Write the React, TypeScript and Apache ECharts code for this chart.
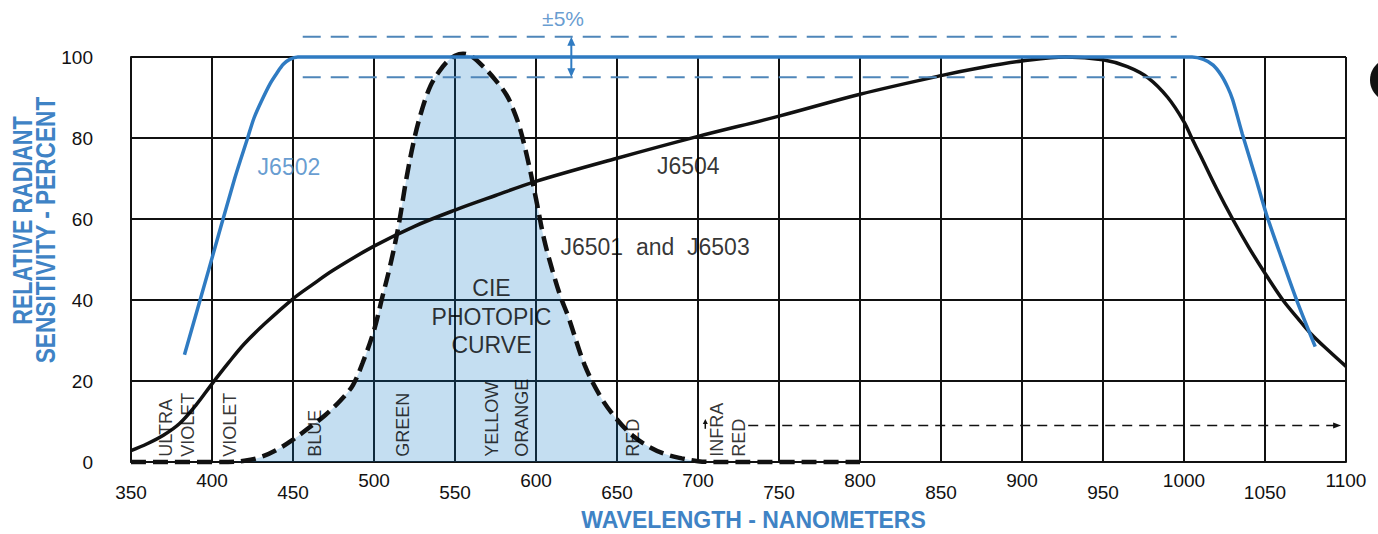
import React, { useEffect, useRef } from 'react';
import * as echarts from 'echarts';

// ---------- data ----------
const xMin = 350;
const xMax = 1100;
const xStep = 50;
const yTicks = [0, 20, 40, 60, 80, 100];

// J6502 (blue)
const j6502: [number, number][] = [
  [383, 26.5], [398, 47.5], [414, 70], [422, 80], [426, 85],
  [431, 89.5], [436, 93.5], [440, 96], [444, 98.2], [448, 99.4], [453, 100],
  [1005, 100], [1012, 99.4], [1018, 98], [1023, 95.5], [1027, 92.5], [1030, 89.5],
  [1036, 81], [1044, 70.5], [1051, 61], [1061, 49.5], [1070, 39.5], [1081, 28.5],
];

// J6504 (black solid)
const j6504: [number, number][] = [
  [350, 2.8], [360, 4.5], [370, 6.6], [380, 9.5], [390, 14], [400, 19.3], [410, 24.4],
  [420, 29.2], [433, 34.3], [450, 40.3], [462, 43.8], [475, 47.4], [500, 53.3],
  [525, 58.2], [550, 62.2], [575, 65.8], [600, 69.3], [650, 75], [700, 80.4],
  [750, 85.4], [800, 90.8], [850, 95.4], [875, 97.4], [900, 99], [927, 100],
  [950, 99.3], [965, 97.6], [978, 94.8], [990, 90], [1000, 84], [1005, 79.8],
  [1010, 75.8], [1020, 67.6], [1030, 60], [1040, 53], [1050, 46.6], [1061, 40],
  [1070, 35.6], [1078, 31.8], [1090, 27.2], [1100, 23.6],
];

// CIE photopic curve (J6501 and J6503), black dashed with fill
const ciePhotopic: [number, number][] = [
  [350, 0], [410, 0], [420, 0.3], [430, 1.2], [440, 3], [450, 5.5], [460, 8.5],
  [470, 11.6], [480, 15.5], [487, 19], [493, 24.5], [500, 32.5], [505, 40.5],
  [510, 48.5], [515, 58], [520, 70], [525, 80], [530, 87.5], [535, 93], [540, 96.3],
  [545, 98.8], [550, 100.3], [555, 100.8], [560, 100.2], [567, 97.8], [575, 94.3],
  [582, 90.5], [586, 87], [590, 82.5], [595, 74.5], [600, 65], [605, 55], [610, 47.5],
  [615, 41], [620, 35.8], [630, 24], [640, 16], [650, 10.5], [660, 6.4], [670, 3.7],
  [680, 1.9], [690, 0.9], [700, 0.2], [710, 0], [800, 0],
];

// ±5% tolerance band
const toleranceUpper: [number, number][] = [[456, 105], [995.5, 105]];
const toleranceLower: [number, number][] = [[456, 95], [995.5, 95]];

// arrows: [x1, y1, x2, y2, kind]  kind 0 = blue double, 1 = black dashed, 2 = small black up
const arrows: number[][] = [
  [621.8, 105, 621.8, 95, 0],
  [731, 9, 1097, 9, 1],
  [704.5, 8.2, 704.5, 10.6, 2],
];

// colour band labels (rotated)
const bandNames = ['ULTRA\nVIOLET', 'VIOLET', 'BLUE', 'GREEN', 'YELLOW', 'ORANGE', 'RED', 'INFRA\nRED'];
const bandX = [378.1, 411.1, 463.6, 517.6, 572.7, 591.2, 659.6, 718.8];
const bandY = 1.3;

// curve labels
const curveLabelNames = ['J6502', 'J6504', 'J6501  and  J6503', 'CIE\nPHOTOPIC\nCURVE', '±5%'];
const curveLabelPos: [number, number][] = [[447.5, 72.8], [694, 73], [673.5, 53.2], [572.5, 35.9], [616.7, 109.5]];

const BLUE = '#2f7bc2';
const TEXT_BLUE = '#3f83c5';
const DASH_BLUE = '#4f86b9';
const INK = '#111111';
const FONT = '"Liberation Sans", Arial, Helvetica, sans-serif';

export default function App() {
  const ref = useRef<HTMLDivElement>(null);

  useEffect(() => {
    if (!ref.current) return;
    const chart = echarts.init(ref.current, null, { renderer: 'svg' });

    const head = (tip: number[], from: number[], len: number, hw: number) => {
      const dx = tip[0] - from[0];
      const dy = tip[1] - from[1];
      const d = Math.sqrt(dx * dx + dy * dy) || 1;
      const ux = dx / d, uy = dy / d;
      const nx = -uy, ny = ux;
      const bx = tip[0] - ux * len, by = tip[1] - uy * len;
      return [[tip[0], tip[1]], [bx + nx * hw, by + ny * hw], [bx - nx * hw, by - ny * hw]];
    };

    const option: any = {
      animation: false,
      backgroundColor: '#ffffff',
      grid: { left: 131, top: 57, width: 1215, height: 405, containLabel: false },
      xAxis: [
        {
          type: 'value', min: xMin, max: xMax, interval: xStep,
          axisLine: { show: true, lineStyle: { color: INK, width: 2 } },
          axisTick: { show: false },
          splitLine: { show: true, lineStyle: { color: INK, width: 2 } },
          axisLabel: {
            margin: 21, fontSize: 19, color: INK, fontFamily: FONT,
            formatter: (v: number) => ((v - xMin) % 100 === 0 ? String(v) : ''),
          },
        },
        {
          type: 'value', min: xMin, max: xMax, interval: xStep, position: 'bottom',
          axisLine: { show: false }, axisTick: { show: false }, splitLine: { show: false },
          axisLabel: {
            margin: 9, fontSize: 19, color: INK, fontFamily: FONT,
            formatter: (v: number) => ((v - xMin) % 100 === 50 ? String(v) : ''),
          },
        },
      ],
      yAxis: {
        type: 'value', min: yTicks[0], max: yTicks[yTicks.length - 1], interval: 20,
        axisLine: { show: true, lineStyle: { color: INK, width: 2 } },
        axisTick: { show: false },
        splitLine: { show: true, lineStyle: { color: INK, width: 2 } },
        axisLabel: { margin: 38, fontSize: 19, color: INK, fontFamily: FONT },
      },
      graphic: [
        {
          type: 'text', x: 22.5, y: 220.5, rotation: Math.PI / 2, scaleX: 0.8,
          style: {
            text: 'RELATIVE RADIANT', font: `bold 27px ${FONT}`, fill: TEXT_BLUE,
            align: 'center', verticalAlign: 'middle', textAlign: 'center', textVerticalAlign: 'middle',
          },
        },
        {
          type: 'text', x: 45.5, y: 230, rotation: Math.PI / 2, scaleX: 0.84,
          style: {
            text: 'SENSITIVITY - PERCENT', font: `bold 27px ${FONT}`, fill: TEXT_BLUE,
            align: 'center', verticalAlign: 'middle', textAlign: 'center', textVerticalAlign: 'middle',
          },
        },
        {
          type: 'text', x: 753.5, y: 520,
          style: {
            text: 'WAVELENGTH - NANOMETERS', font: `bold 23px ${FONT}`, fill: TEXT_BLUE,
            align: 'center', verticalAlign: 'middle', textAlign: 'center', textVerticalAlign: 'middle',
          },
        },
        {
          type: 'circle', shape: { cx: 1392, cy: 80, r: 22 }, style: { fill: INK },
        },
      ],
      series: [
        {
          name: 'CIE photopic', type: 'line', data: ciePhotopic, smooth: 0.35, clip: false,
          symbol: 'none', z: 2,
          lineStyle: { color: INK, width: 4.5, type: [15, 7] },
          areaStyle: { color: 'rgba(12,118,198,0.35)', origin: 'start' },
        },
        {
          name: 'J6504', type: 'line', data: j6504, smooth: 0.35, clip: false, symbol: 'none', z: 3,
          lineStyle: { color: INK, width: 3.5 },
        },
        {
          name: 'J6502', type: 'line', data: j6502, smooth: 0.3, clip: false, symbol: 'none', z: 4,
          lineStyle: { color: BLUE, width: 3.5 },
        },
        {
          name: '+5%', type: 'line', data: toleranceUpper, clip: false, symbol: 'none', z: 4,
          lineStyle: { color: DASH_BLUE, width: 2, type: [18, 10] },
        },
        {
          name: '-5%', type: 'line', data: toleranceLower, clip: false, symbol: 'none', z: 4,
          lineStyle: { color: DASH_BLUE, width: 2, type: [18, 10] },
        },
        {
          name: 'arrows', type: 'custom', clip: false, z: 5,
          data: arrows,
          encode: { x: [0, 2], y: [1, 3] },
          renderItem: (_params: any, api: any) => {
            const a = api.coord([api.value(0), api.value(1)]);
            const b = api.coord([api.value(2), api.value(3)]);
            const kind = api.value(4);
            const children: any[] = [];
            if (kind === 0) {
              children.push({ type: 'line', shape: { x1: a[0], y1: a[1] + 4, x2: b[0], y2: b[1] - 4 }, style: { stroke: BLUE, lineWidth: 2 } });
              children.push({ type: 'polygon', shape: { points: head(a, b, 9, 4) }, style: { fill: BLUE } });
              children.push({ type: 'polygon', shape: { points: head(b, a, 9, 4) }, style: { fill: BLUE } });
            } else if (kind === 1) {
              children.push({ type: 'line', shape: { x1: a[0], y1: a[1], x2: b[0] - 4, y2: b[1] }, style: { stroke: INK, lineWidth: 1.5, lineDash: [10, 7] } });
              children.push({ type: 'polygon', shape: { points: head(b, a, 8, 3) }, style: { fill: INK } });
            } else {
              children.push({ type: 'line', shape: { x1: a[0], y1: a[1], x2: b[0], y2: b[1] + 3 }, style: { stroke: INK, lineWidth: 1.5 } });
              children.push({ type: 'polygon', shape: { points: head(b, a, 5, 2.5) }, style: { fill: INK } });
            }
            return { type: 'group', children };
          },
        },
        {
          name: 'bands', type: 'scatter', clip: false, z: 6, symbolSize: 1,
          itemStyle: { color: 'rgba(0,0,0,0)' },
          data: bandNames.map((n, i) => ({ name: n, value: [bandX[i], bandY] })),
          label: {
            show: true, position: 'inside', rotate: 90, align: 'left', verticalAlign: 'middle',
            formatter: (p: any) => p.name, fontSize: 18, lineHeight: 22, color: '#000', fontFamily: FONT,
          },
          emphasis: { disabled: true },
          silent: true,
        },
        {
          name: 'curveLabels', type: 'scatter', clip: false, z: 6, symbolSize: 1,
          itemStyle: { color: 'rgba(0,0,0,0)' },
          data: curveLabelNames.map((n, i) => {
            const item: any = { name: n, value: curveLabelPos[i] };
            if (n === 'J6502') item.label = { color: TEXT_BLUE };
            if (n === '±5%') item.label = { color: TEXT_BLUE, fontSize: 21 };
            return item;
          }),
          label: {
            show: true, position: 'inside', align: 'center', verticalAlign: 'middle',
            formatter: (p: any) => p.name, fontSize: 23, lineHeight: 28.5, color: '#000', fontFamily: FONT,
          },
          emphasis: { disabled: true },
          silent: true,
        },
      ],
    };

    chart.setOption(option);
    return () => chart.dispose();
  }, []);

  return (
    <div
      ref={ref}
      style={{ position: 'fixed', left: 0, top: 0, width: 1378, height: 534, background: '#fff' }}
    />
  );
}
